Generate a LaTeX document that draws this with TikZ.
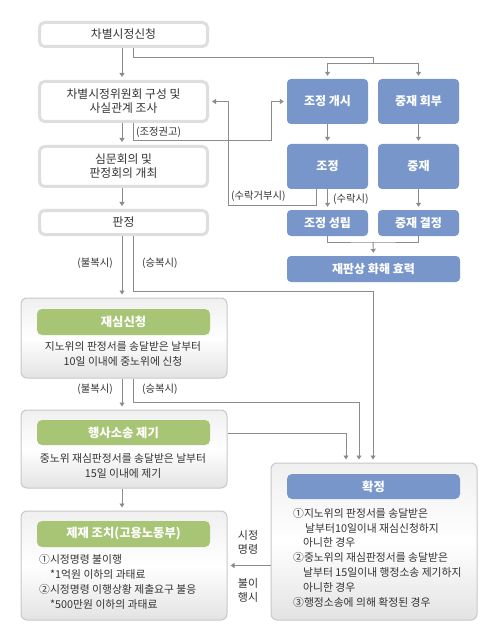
\documentclass[tikz,border=0pt]{standalone}
\usepackage{fontspec}
\setmainfont{Noto Sans CJK KR}
\usetikzlibrary{arrows.meta}
\definecolor{lnc}{HTML}{8C8C8C}
\definecolor{bluebox}{HTML}{7896CA}
\definecolor{greenbox}{HTML}{A7C574}
\definecolor{txt}{HTML}{333333}
\definecolor{graybd}{HTML}{DEDEDE}
\definecolor{outbd}{HTML}{C8C8C8}
\begin{document}
\begin{tikzpicture}[x=1pt,y=-1pt,
 line/.style={draw=lnc,line width=0.9pt},
 arr/.style={line,-{Triangle[width=5pt,length=4pt]},shorten >=3pt},
 topbox/.style={draw=graybd,line width=3pt,rounded corners=5pt,fill=white,inner sep=0pt,minimum width=168pt,text=txt,font=\fontsize{11.8}{14}\selectfont,align=center},
 bbox/.style={fill=bluebox,rounded corners=4pt,inner sep=0pt,text=white,font=\bfseries\fontsize{12}{14}\selectfont,minimum width=81pt,minimum height=45pt},
 outbox/.style={draw=outbd,line width=1pt,rounded corners=6pt,top color=gray!12,bottom color=gray!22,middle color=white,minimum width=206pt,inner sep=0pt},
 hbox/.style={fill=greenbox,rounded corners=5pt,minimum width=173pt,minimum height=26pt,inner sep=0pt,text=white,font=\bfseries\fontsize{12.3}{14}\selectfont},
 lbl/.style={text=txt,font=\fontsize{10.3}{13}\selectfont,inner sep=0pt},
 body/.style={text=txt,font=\fontsize{10.8}{14.8}\selectfont,inner sep=0pt}
]
\useasboundingbox (0,0) rectangle (500,644);
\fill[white] (0,0) rectangle (500,644);

% left top column
\node[topbox,minimum height=24pt] (b1) at (123.5,34.5) {차별시정신청};
\node[topbox,minimum height=40pt] (b2) at (123.5,101.5) {차별시정위원회 구성 및\\사실관계 조사};
\node[topbox,minimum height=40pt] (b3) at (123.5,166.5) {심문회의 및\\판정회의 개최};
\node[topbox,minimum height=24pt] (b4) at (123.5,222.5) {판정};

% right blue column
\node[bbox] (ja) at (327.5,101.5) {조정 개시};
\node[bbox] (jb) at (418.5,101.5) {중재 회부};
\node[bbox] (jc) at (327.5,166.5) {조정};
\node[bbox] (jd) at (418.5,166.5) {중재};
\node[bbox,minimum height=26pt] (je) at (327.5,223) {조정 성립};
\node[bbox,minimum height=26pt] (jf) at (418.5,223) {중재 결정};
\node[bbox,minimum height=26pt,minimum width=173pt] (jg) at (373.5,269) {재판상 화해 효력};

% lower boxes
\node[outbox,minimum height=80pt] (c1) at (124,338) {};
\node[hbox] (c1h) at (123.5,322) {재심신청};
\node[body,align=center] (c1t) at (123,354) {지노위의 판정서를 송달받은 날부터\\10일 이내에 중노위에 신청};

\node[outbox,minimum height=78pt] (c2) at (124,449) {};
\node[hbox,minimum height=25pt] (c2h) at (123.5,432.5) {행사소송 제기};
\node[body,align=center] (c2t) at (123,466) {중노위 재심판정서를 송달받은 날부터\\15일 이내에 제기};

\node[outbox,minimum height=109pt] (c3) at (124,565.5) {};
\node[hbox] (c3h) at (123.5,534) {제재 조치(고용노동부)};
\node[body,align=left,anchor=west,font=\fontsize{10.8}{15}\selectfont] (c3t) at (39,581.5) {①시정명령 불이행\\\hspace*{11pt}*1억원 이하의 과태료\\②시정명령 이행상황 제출요구 불응\\\hspace*{11pt}*500만원 이하의 과태료};

\node[outbox,minimum height=157pt] (c4) at (374,541.5) {};
\node[hbox,fill=bluebox,minimum height=25pt] (c4h) at (373.5,486.5) {확정};
\node[body,align=left,anchor=west] (c4t) at (293,557.5) {①지노위의 판정서를 송달받은\\\hspace*{12pt}날부터10일이내 재심신청하지\\\hspace*{10pt}아니한 경우\\②중노위의 재심판정서를 송달받은\\\hspace*{10pt}날부터 15일이내 행정소송 제기하지\\\hspace*{10pt}아니한 경우\\③행정소송에 의해 확정된 경우};

% coordinates
\coordinate (j1) at (133,57);
\coordinate (j2) at (373,57);
\coordinate (j3) at (373,63);
\coordinate (k1) at (271,140);
\coordinate (k2) at (228,205);
\coordinate (k3) at (373,242);
\coordinate (m1) at (373,291);
\coordinate (m2) at (359,402);
\coordinate (m3) at (346,433);

% left main arrows
\draw[arr] (b1.south -| 122,0) -- (b2.north -| 122,0);
\draw[arr] (b2.south -| 122,0) -- (b3.north -| 122,0);
\draw[arr] (b3.south -| 122,0) -- (b4.north -| 122,0);
\draw[arr] (b4.south -| 122,0) -- (c1.north -| 122,0);
\draw[arr] (c1.south -| 122,0) -- (c2.north -| 122,0);
\draw[arr] (c2.south -| 122,0) -- (c3.north -| 122,0);

% top branch to right
\draw[line] (b1.south -| j1) -- (j1) -- (j2) -- (j3);
\draw[line] (ja.north |- j3) -- (jb.north |- j3);
\draw[arr] (ja.north |- j3) -- (ja.north);
\draw[arr] (jb.north |- j3) -- (jb.north);

% conciliation recommendation
\draw[arr] (b2.south -| j1) |- (k1) |- (ja.west);
\node[lbl,anchor=west] (l1) at (136,132) {(조정권고)};

% refusal
\draw[arr] ([xshift=-11.5pt]jc.south) |- (k2) |- (b2.east);
\node[lbl,anchor=west] (l2) at (231,196) {(수락거부시)};

% right column arrows
\draw[arr] (ja) -- (jc);
\draw[arr] (jb) -- (jd);
\draw[arr] (jc) -- (je);
\draw[arr] (jd) -- (jf);
\node[lbl,anchor=west] (l3) at (333,199) {(수락시)};
\draw[line] (je.south) |- (k3) -| (jf.south);
\draw[arr] (k3) -- (jg.north);

% to 확정
\draw[arr] (b4.south -| j1) |- (m1) -- (c4.north -| m1);
\draw[arr] (c1.south -| j1) |- (m2) -- (c4.north -| m2);
\draw[arr] (c2.east |- m3) -- (m3) -- (c4.north -| m3);
\node[lbl,anchor=east] (l4) at (113,263) {(불복시)};
\node[lbl,anchor=west] (l5) at (142,263) {(승복시)};
\node[lbl,anchor=east] (l6) at (113,389) {(불복시)};
\node[lbl,anchor=west] (l7) at (142,389) {(승복시)};

% 확정 -> 제재
\draw[arr] (c4.west |- c3.east) -- (c3.east);
\node[lbl,align=center,font=\fontsize{11}{14}\selectfont] (l8) at (248,542) {시정\\명령};
\node[lbl,align=center,font=\fontsize{11}{14}\selectfont] (l9) at (248,590) {불이\\행시};
\end{tikzpicture}
\end{document}
